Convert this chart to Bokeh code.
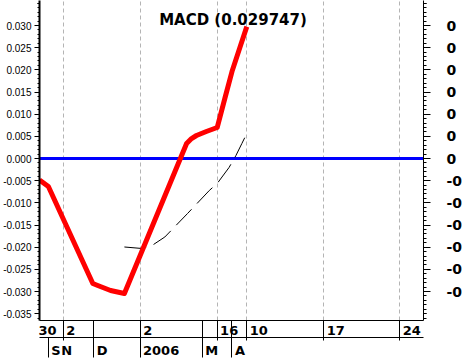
from bokeh.plotting import figure
from bokeh.models import (Range1d, LinearAxis, FixedTicker, NumeralTickFormatter,
                          CustomJSTickFormatter, Grid, Span, Label, AllLabels)
from bokeh.embed import file_html
from bokeh.resources import INLINE

# ---- data (x = chart time slots) ----
macd_x = [0, 9, 54, 59, 72, 86, 149, 154, 159, 169, 180, 188, 195, 203, 210]
macd_y = [-0.00485, -0.00631, -0.02819, -0.02864, -0.02977, -0.03044, 0.00338,
          0.00451, 0.00519, 0.00609, 0.00699, 0.01376, 0.01962, 0.02503, 0.029747]

signal_x = [86, 104, 114, 127, 150, 172, 180, 192, 199, 205, 210]
signal_y = [-0.01996, -0.02030, -0.01962, -0.01770, -0.01240, -0.00722,
            -0.00564, -0.00203, 0.00068, 0.00338, 0.00564]

grid_x = [24, 102, 180, 210, 288, 365]
day_sep_x = [24, 55, 102, 165, 180, 195, 210, 288, 365]
month_sep_x = [9, 55, 102, 165, 195]
day_label_x = [-4, 24, 102, 180, 210, 288, 365]
day_labels = ["30", "2", "2", "16", "10", "17", "24"]
month_label_x = [9, 19, 55, 102, 165, 195]
month_labels = ["S", "N", "D", "2006", "M", "A"]

left_ticks = [-0.035, -0.030, -0.025, -0.020, -0.015, -0.010, -0.005,
              0.000, 0.005, 0.010, 0.015, 0.020, 0.025, 0.030]
right_ticks = [-0.030, -0.025, -0.020, -0.015, -0.010, -0.005,
               0.000, 0.005, 0.010, 0.015, 0.020, 0.025, 0.030]
minor_ticks = [round(i * 0.001, 3) for i in range(-36, 36)]

X0, X1 = 0, 389
Y0, Y1 = -0.03654, 0.03564

# label anchors -> centre positions (labels sit just right of their separator)
GLYPH_EM = {"0": 0.696, "1": 0.696, "2": 0.696, "3": 0.696, "4": 0.696, "5": 0.696,
            "6": 0.696, "7": 0.696, "8": 0.696, "9": 0.696, "S": 0.720, "N": 0.837,
            "D": 0.830, "M": 0.995, "A": 0.774}
FS, GAP, DPP = 13, 3, (X1 - X0) / 387.0


def centres(anchors, texts):
    return [a + (GAP + sum(GLYPH_EM[c] for c in t) * FS / 2) * DPP
            for a, t in zip(anchors, texts)]


def label_formatter(ticks, texts):
    return CustomJSTickFormatter(args=dict(t=ticks, l=texts), code="""
        let b = 0;
        for (let i = 0; i < t.length; i++) {
            if (Math.abs(t[i] - tick) < Math.abs(t[b] - tick)) b = i;
        }
        return l[b];""")


p = figure(width=465, height=360, output_backend="svg", toolbar_location=None,
           x_range=Range1d(X0, X1), y_range=Range1d(Y0, Y1),
           min_border_left=30, min_border_right=38, min_border_top=0,
           min_border_bottom=40, background_fill_color="white",
           border_fill_color="white", outline_line_color=None)
p.xgrid.visible = False
p.ygrid.visible = False

row_style = dict(major_tick_out=2, major_tick_in=0, major_tick_line_color=None,
                 minor_tick_out=20, minor_tick_in=0, minor_tick_line_color="black",
                 major_label_standoff=-15, major_label_policy=AllLabels(),
                 major_label_text_font="DejaVu Sans", major_label_text_font_style="bold",
                 major_label_text_font_size=f"{FS}px", major_label_text_color="black",
                 axis_line_color="black")

# ---- bottom: date row ----
day_c = centres(day_label_x, day_labels)
dax = p.xaxis[0]
dax.ticker = FixedTicker(ticks=day_c, minor_ticks=day_sep_x)
dax.formatter = label_formatter(day_c, day_labels)
for k, v in row_style.items():
    setattr(dax, k, v)

# ---- bottom: month row ----
month_c = centres(month_label_x, month_labels)
max_ = LinearAxis(ticker=FixedTicker(ticks=month_c, minor_ticks=month_sep_x),
                  formatter=label_formatter(month_c, month_labels), **row_style)
p.add_layout(max_, "below")

# ---- left axis ----
lax = p.yaxis[0]
lax.ticker = FixedTicker(ticks=left_ticks, minor_ticks=minor_ticks + [0.035])
lax.formatter = NumeralTickFormatter(format="0.000")
lax.major_tick_out = 5
lax.major_tick_in = 0
lax.minor_tick_out = 2
lax.minor_tick_in = 0
lax.axis_line_width = 2
lax.major_label_standoff = 3
lax.major_label_text_font = "Liberation Sans"
lax.major_label_text_font_size = "10px"
lax.major_label_text_color = "black"

# ---- right axis ----
rax = LinearAxis(ticker=FixedTicker(ticks=right_ticks, minor_ticks=minor_ticks + [0.035, -0.035]),
                 formatter=CustomJSTickFormatter(code="return tick < -1e-12 ? '-0' : '0';"),
                 major_tick_out=7, major_tick_in=0, minor_tick_out=3, minor_tick_in=0,
                 major_label_standoff=16, major_label_text_font="DejaVu Sans",
                 major_label_text_font_style="bold", major_label_text_font_size="14px",
                 major_label_text_color="black")
p.add_layout(rax, "right")

# ---- grid and zero line ----
p.add_layout(Grid(dimension=0, ticker=FixedTicker(ticks=grid_x),
                  grid_line_color="#b4b4b4", grid_line_dash="4 3"))
p.add_layout(Span(location=0, dimension="width", line_color="#0000ff",
                  line_width=3, level="underlay"))

# ---- series ----
p.line(signal_x, signal_y, line_color="black", line_width=1, line_dash="22 8")
p.line(macd_x, macd_y, line_color="#ff0000", line_width=5, line_join="round")

# ---- title ----
p.add_layout(Label(x=196, y=Y1, y_offset=-19, text=f"MACD ({macd_y[-1]:.6f})",
                   text_align="center", text_baseline="alphabetic",
                   text_font="DejaVu Sans", text_font_style="bold",
                   text_font_size="15px", text_color="black"))

open("out.html", "w").write(file_html(p, INLINE))
